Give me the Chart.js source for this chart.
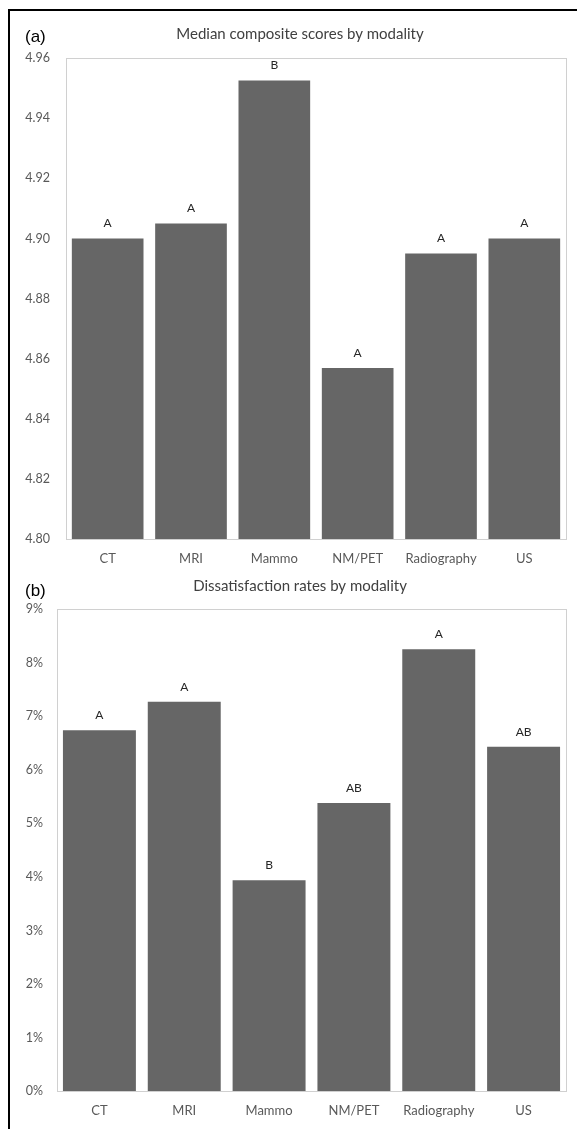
<!DOCTYPE html>
<html lang="en">
<head>
  <meta charset="UTF-8">
  <title>Modality charts</title>
  <script src="https://cdn.jsdelivr.net/npm/chart.js@4.4.1/dist/chart.umd.min.js"></script>
  <style>
    html, body { margin: 0; background: #fff; overflow: hidden; }
    #frame { position: absolute; left: 8px; top: 9px; width: 567px; height: 1120px;
             border-left: 2px solid #000; border-top: 2px solid #000; }
    .panel { position: absolute; left: 10px; width: 567px; }
  </style>
</head>
<body>
  <div id="frame"></div>
  <div class="panel" style="top:20px;height:568px"><canvas id="chartA"></canvas></div>
  <div class="panel" style="top:575px;height:567px"><canvas id="chartB"></canvas></div>
  <script>
    const categories = ['CT', 'MRI', 'Mammo', 'NM/PET', 'Radiography', 'US'];
    const medianScores = [4.900, 4.905, 4.9525, 4.857, 4.895, 4.900];
    const dissatisfactionRates = [6.74, 7.27, 3.94, 5.38, 8.25, 6.43];
    const lettersA = ['A', 'A', 'B', 'A', 'A', 'A'];
    const lettersB = ['A', 'A', 'B', 'AB', 'A', 'AB'];
    const scoreTicks = [4.80, 4.82, 4.84, 4.86, 4.88, 4.90, 4.92, 4.94, 4.96];
    const rateTicks = [0, 1, 2, 3, 4, 5, 6, 7, 8, 9];

    const barColor = '#666666';
    const tickColor = '#595959';

    // title, panel letter, plot frame and letters over the bars
    const decorations = {
      id: 'decorations',
      afterDatasetsDraw(chart, args, opts) {
        const ctx = chart.ctx;
        const area = chart.chartArea;
        ctx.save();
        ctx.strokeStyle = '#d0d0d0';
        ctx.lineWidth = 1;
        ctx.strokeRect(Math.round(area.left) + 0.5, Math.round(area.top) + 0.5,
          Math.round(area.right - area.left), Math.round(area.bottom - area.top));

        ctx.textBaseline = 'middle';
        ctx.fillStyle = '#404040';
        ctx.font = '15px Lato';
        ctx.textAlign = 'center';
        ctx.fillText(opts.title, 290, opts.titleY);

        ctx.fillStyle = '#000';
        ctx.font = '17px "Liberation Sans"';
        ctx.textAlign = 'left';
        ctx.fillText(opts.letter, 15, opts.letterY);

        ctx.fillStyle = '#262626';
        ctx.font = '12px Lato';
        ctx.textAlign = 'center';
        chart.getDatasetMeta(0).data.forEach((bar, i) => {
          ctx.fillText(opts.groups[i], bar.x, bar.y - 15);
        });
        ctx.restore();
      }
    };

    function makeChart(id, values, ticks, fmt, yWidth, yPad, bottomPad, topPad, deco) {
      return new Chart(document.getElementById(id), {
        type: 'bar',
        data: {
          labels: categories,
          datasets: [{
            data: values,
            backgroundColor: barColor,
            barPercentage: 0.86,
            categoryPercentage: 1.0
          }]
        },
        options: {
          responsive: true,
          maintainAspectRatio: false,
          animation: false,
          layout: { padding: { top: topPad, right: 11, bottom: bottomPad, left: 0 } },
          plugins: {
            legend: { display: false },
            tooltip: { enabled: false },
            decorations: deco
          },
          scales: {
            x: {
              grid: { display: false, drawTicks: false },
              border: { display: false },
              ticks: { color: tickColor, font: { family: 'Lato', size: 13 }, padding: 12, maxRotation: 0 }
            },
            y: {
              min: ticks[0],
              max: ticks[ticks.length - 1],
              grid: { display: false, drawTicks: false },
              border: { display: false },
              afterBuildTicks: (scale) => { scale.ticks = ticks.map(v => ({ value: v })); },
              afterFit: (scale) => { scale.width = yWidth; },
              ticks: { color: tickColor, font: { family: 'Lato', size: 12.5 }, padding: yPad, callback: fmt }
            }
          }
        },
        plugins: [decorations]
      });
    }

    makeChart('chartA', medianScores, scoreTicks, (v) => Number(v).toFixed(2), 56, 16, 9, 38, {
      title: 'Median composite scores by modality', titleY: 14, letter: '(a)', letterY: 17, groups: lettersA
    });
    makeChart('chartB', dissatisfactionRates, rateTicks, (v) => v + '%', 47, 14, 11, 34, {
      title: 'Dissatisfaction rates by modality', titleY: 11, letter: '(b)', letterY: 16, groups: lettersB
    });
  </script>
</body>
</html>
